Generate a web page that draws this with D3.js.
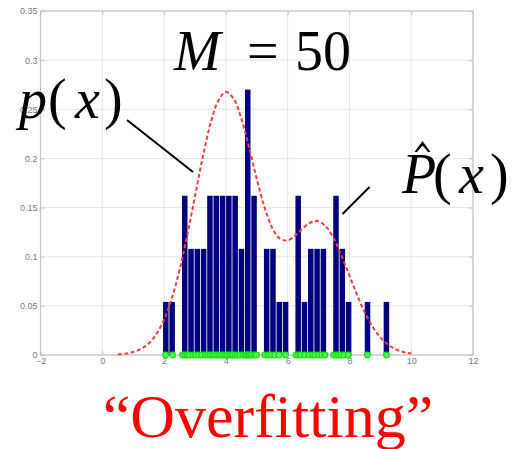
<!DOCTYPE html>
<html>
<head>
<meta charset="utf-8">
<script src="https://cdn.jsdelivr.net/npm/d3@7"></script>
<style>
  html, body { margin: 0; padding: 0; background: #fff; }
  svg { display: block; }
  .tick text { font-family: "Liberation Sans", Arial, sans-serif; font-size: 9px; fill: #7a7a7a; }
  .math { font-family: "Liberation Serif", "Times New Roman", serif; font-size: 56px; fill: #000; }
  .it { font-style: italic; }
</style>
</head>
<body>
<svg id="chart" width="519" height="449"></svg>
<script>
// Axis ticks
const xTicks = [-2, 0, 2, 4, 6, 8, 10, 12];
const yTicks = [0, 0.05, 0.1, 0.15, 0.2, 0.25, 0.3, 0.35];
const yTickLabels = ["0", "0.05", "0.1", "0.15", "0.2", "0.25", "0.3", "0.35"];

// Histogram: left edge of each non-empty bin, common bin width, bar heights
const binWidth = 0.204;
const binLeft = [1.955, 2.159, 2.567, 2.771, 2.975, 3.179, 3.383, 3.587, 3.791, 3.995,
                 4.199, 4.403, 4.607, 4.811, 5.219, 5.423, 5.627, 5.831, 6.239, 6.443,
                 6.647, 6.851, 7.055, 7.463, 7.667, 7.871, 8.483, 9.095];
const binHeight = [0.054, 0.054, 0.162, 0.108, 0.108, 0.108, 0.162, 0.162, 0.162, 0.162,
                   0.162, 0.108, 0.270, 0.162, 0.108, 0.108, 0.054, 0.054, 0.162, 0.054,
                   0.108, 0.108, 0.108, 0.162, 0.108, 0.054, 0.054, 0.054];

// Sample points drawn along the baseline
const samples = [2.05, 2.28, 2.60, 2.68, 2.75, 2.82, 2.93, 3.02, 3.12, 3.22, 3.33,
                 3.41, 3.49, 3.56, 3.62, 3.70, 3.77, 3.83, 3.90, 3.97, 4.03, 4.11, 4.18,
                 4.23, 4.30, 4.38, 4.45, 4.55, 4.62, 4.66, 4.71, 4.75, 4.79, 4.84, 4.92, 4.99,
                 5.26, 5.37, 5.46, 5.58, 5.72, 5.93, 6.27, 6.35, 6.42, 6.55, 6.69, 6.80,
                 6.88, 7.00, 7.10, 7.21, 7.49, 7.57, 7.64, 7.72, 7.82, 7.96, 8.58, 9.20];

// True density p(x), sampled along x
const densX = [0.5, 0.75, 1.0, 1.25, 1.5, 1.75, 2.0, 2.25, 2.5, 2.75, 3.0, 3.25, 3.5, 3.75,
               4.0, 4.25, 4.5, 4.75, 5.0, 5.25, 5.5, 5.75, 6.0, 6.25, 6.5, 6.75, 7.0, 7.25,
               7.5, 7.75, 8.0, 8.25, 8.5, 8.75, 9.0, 9.25, 9.5, 9.75, 10.0];
const densY = [0.0006, 0.0014, 0.0030, 0.0061, 0.0117, 0.0212, 0.0360, 0.0575, 0.0864, 0.1218,
               0.1614, 0.2009, 0.2350, 0.2585, 0.2675, 0.2609, 0.2406, 0.2114, 0.1793, 0.1505,
               0.1295, 0.1184, 0.1167, 0.1216, 0.1291, 0.1350, 0.1360, 0.1303, 0.1180, 0.1006,
               0.0808, 0.0609, 0.0432, 0.0288, 0.0180, 0.0106, 0.0058, 0.0030, 0.0015];

const svg = d3.select("#chart");
const L = 40.5, R = 473, T = 11, B = 355;

const x = d3.scaleLinear().domain([-2, 12]).range([L, R]);
const y = d3.scaleLinear().domain([0, 0.35]).range([B, T]);

// grid
const grid = svg.append("g").attr("stroke", "#e6e6e6").attr("stroke-width", 1);
grid.selectAll("line.gx").data(xTicks).join("line")
  .attr("x1", d => x(d)).attr("x2", d => x(d)).attr("y1", T).attr("y2", B);
grid.selectAll("line.gy").data(yTicks).join("line")
  .attr("x1", L).attr("x2", R).attr("y1", d => y(d)).attr("y2", d => y(d));

// axes with inward ticks
const axisColor = "#c4c4c4";
function styleAxis(g) {
  g.select(".domain").remove();
  g.selectAll(".tick line").attr("stroke", axisColor);
}
svg.append("g").attr("transform", `translate(0,${B})`)
  .call(d3.axisBottom(x).tickValues(xTicks).tickSize(-4).tickPadding(3))
  .call(styleAxis);
svg.append("g").attr("transform", `translate(${L},0)`)
  .call(d3.axisLeft(y).tickValues(yTicks).tickFormat((d, i) => yTickLabels[i]).tickSize(-4).tickPadding(3))
  .call(styleAxis);
svg.append("g").attr("transform", `translate(0,${T})`)
  .call(d3.axisTop(x).tickValues(xTicks).tickFormat("").tickSize(-4))
  .call(styleAxis);
svg.append("g").attr("transform", `translate(${R},0)`)
  .call(d3.axisRight(y).tickValues(yTicks).tickFormat("").tickSize(-4))
  .call(styleAxis);
svg.append("rect").attr("x", L).attr("y", T).attr("width", R - L).attr("height", B - T)
  .attr("fill", "none").attr("stroke", axisColor).attr("stroke-width", 1.2);

// histogram bars
svg.append("g").selectAll("rect").data(binLeft).join("rect")
  .attr("x", d => x(d) + 0.4)
  .attr("width", d => x(d + binWidth) - x(d) - 0.8)
  .attr("y", (d, i) => y(binHeight[i]))
  .attr("height", (d, i) => y(0) - y(binHeight[i]))
  .attr("fill", "#000080");

// density curve
const line = d3.line().x((d, i) => x(d)).y((d, i) => y(densY[i])).curve(d3.curveCatmullRom);
svg.append("path").attr("d", line(densX))
  .attr("fill", "none").attr("stroke", "#f03c3c").attr("stroke-width", 2)
  .attr("stroke-dasharray", "4,2.5");

// samples
svg.append("g").selectAll("circle").data(samples).join("circle")
  .attr("cx", d => x(d)).attr("cy", y(0)).attr("r", 2.8)
  .attr("fill", "#55ff55").attr("stroke", "#18e018").attr("stroke-width", 1.3);

// annotations
function glyph(txt, gx, gy, italic) {
  svg.append("text").attr("class", "math" + (italic ? " it" : ""))
    .attr("x", gx).attr("y", gy).text(txt);
}
glyph("M", 174, 70, true);
glyph("=", 247, 70, false);
glyph("50", 295, 70, false);

glyph("p", 19, 118, true);
glyph("(", 48, 118, false);
glyph("x", 75, 118, true);
glyph(")", 104, 118, false);

glyph("P", 402, 193, true);
glyph("(", 433, 193, false);
glyph("x", 459, 193, true);
glyph(")", 490, 193, false);
svg.append("path").attr("d", "M414.5,152 L422.5,141 L430.5,152 L428,152 L422.5,145.5 L417,152 Z")
  .attr("fill", "#000");

svg.append("line").attr("x1", 127).attr("y1", 120).attr("x2", 193).attr("y2", 172)
  .attr("stroke", "#000").attr("stroke-width", 2);
svg.append("line").attr("x1", 369.5).attr("y1", 187).attr("x2", 342.5).attr("y2", 214)
  .attr("stroke", "#000").attr("stroke-width", 2);

svg.append("text").attr("x", 268).attr("y", 437).attr("text-anchor", "middle")
  .style("font-family", "'Liberation Serif', 'Times New Roman', serif")
  .style("font-size", "62px").attr("fill", "#ff0000")
  .text("\u201COverfitting\u201D");
</script>
</body>
</html>
